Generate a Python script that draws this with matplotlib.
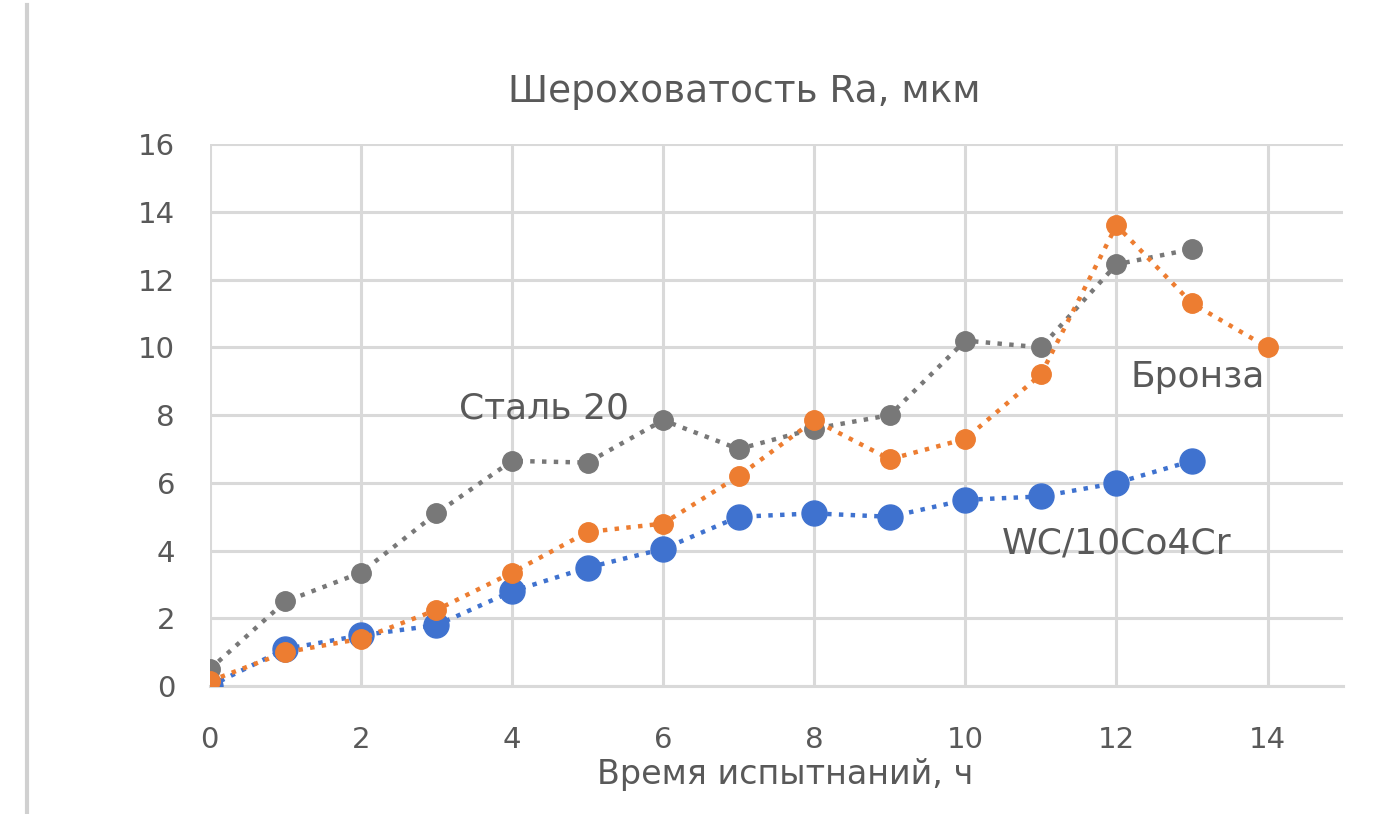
import matplotlib.pyplot as plt
from matplotlib.lines import Line2D

plt.rcParams['font.family'] = ['DejaVu Sans']

# Data
hours_steel = list(range(14))
steel = [0.5, 2.5, 3.35, 5.1, 6.65, 6.6, 7.85, 7.0, 7.6, 8.0, 10.2, 10.0, 12.45, 12.9]

hours_wc = list(range(14))
wc = [0.0, 1.1, 1.5, 1.8, 2.8, 3.5, 4.05, 5.0, 5.1, 5.0, 5.5, 5.6, 6.0, 6.65]

hours_bronze = list(range(15))
bronze = [0.15, 1.0, 1.4, 2.25, 3.35, 4.55, 4.8, 6.2, 7.85, 6.7, 7.3, 9.2, 13.6, 11.3, 10.0]

x_ticks = [0, 2, 4, 6, 8, 10, 12, 14]
y_ticks = [0, 2, 4, 6, 8, 10, 12, 14, 16]

text_color = '#595959'
grid_color = '#d9d9d9'

fig = plt.figure(figsize=(13.89, 8.14), dpi=100)
ax = fig.add_axes([0.151, 0.157, 0.816, 0.666])

ax.plot(hours_steel, steel, linestyle=':', linewidth=3.2, color='#787878',
        marker='o', markersize=14, zorder=3)
ax.plot(hours_wc, wc, linestyle=':', linewidth=3.2, color='#3f72cf',
        marker='o', markersize=18, zorder=4)
ax.plot(hours_bronze, bronze, linestyle=':', linewidth=3.2, color='#ed7d31',
        marker='o', markersize=14, zorder=5)

ax.set_xlim(0, 15)
ax.set_ylim(0, 16)
ax.set_xticks(x_ticks)
ax.set_yticks(y_ticks)
ax.grid(True, color=grid_color, linewidth=2.2)
ax.set_axisbelow(True)

for side in ['top', 'right', 'left']:
    ax.spines[side].set_visible(False)
ax.spines['bottom'].set_color(grid_color)
ax.spines['bottom'].set_linewidth(2.2)

ax.tick_params(axis='both', length=0, labelsize=21, labelcolor=text_color)
ax.tick_params(axis='y', pad=25)
ax.tick_params(axis='x', pad=29)

# Series labels
ax.text(4.43, 8.2, 'Сталь 20', fontsize=26, color=text_color, ha='center', va='center')
ax.text(13.07, 9.12, 'Бронза', fontsize=26, color=text_color, ha='center', va='center')
ax.text(12.0, 4.22, 'WC/10Co4Cr', fontsize=26, color=text_color, ha='center', va='center')

fig.text(0.536, 0.887, 'Шероховатость Ra, мкм', fontsize=27, color=text_color,
         ha='center', va='center')
fig.text(0.565, 0.048, 'Время испытнаний, ч', fontsize=24, color=text_color,
         ha='center', va='center')

# Left frame edge
fig.add_artist(Line2D([27 / 1389, 27 / 1389], [0, 0.994], color='#d0d0d0', linewidth=3))

fig.savefig('out.png', dpi=100)
